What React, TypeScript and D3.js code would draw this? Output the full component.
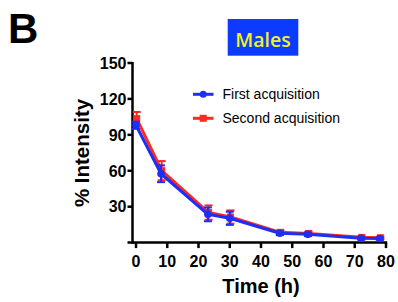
import React from 'react';
import * as d3 from 'd3';

const times = [0, 8, 23, 30, 46, 55, 72, 78];
const firstValues = [98, 57.5, 23.6, 20.3, 7.8, 6.9, 3.6, 3.4];
const firstErrors = [3, 7, 5.8, 5.5, 1.5, 1.5, 1, 1];
const secondValues = [103, 59.5, 24.5, 20.8, 8.0, 7.1, 3.8, 3.5];
const secondErrors = [5.5, 8, 6, 5.5, 1.5, 1.5, 1, 1];
const xTicks = [0, 10, 20, 30, 40, 50, 60, 70, 80];
const yTicks = [30, 60, 90, 120, 150];

const BLUE = '#1f2ef5';
const RED = '#ff2a1f';
const FONT = '"Liberation Sans", Arial, sans-serif';

const App: React.FC = () => {
  const width = 398;
  const height = 302;

  const x = d3.scaleLinear().domain([0, 80]).range([136, 386]);
  const y = d3.scaleLinear().domain([0, 150]).range([242.6, 63]);
  const axisX = 132.5;

  const line = d3.line<number>()
    .x((_, i) => x(times[i]))
    .y(d => y(d));

  const series = [
    { name: 'Second acquisition', values: secondValues, errors: secondErrors, color: RED, square: true },
    { name: 'First acquisition', values: firstValues, errors: firstErrors, color: BLUE, square: false },
  ];

  return (
    <div style={{ position: 'absolute', left: 0, top: 0 }}>
      <svg width={width} height={height} viewBox={`0 0 ${width} ${height}`} style={{ display: 'block', background: '#fff' }}>
        {/* panel letter */}
        <text x={8} y={43} fontFamily={FONT} fontWeight="bold" fontSize={42}>B</text>

        {/* title box */}
        <rect x={227.7} y={19} width={70.6} height={36.7} fill="#0a3bff" />
        <text x={263} y={46.5} textAnchor="middle" fontFamily='"Open Sans", sans-serif' fontWeight={600} fontSize={19.5} fill="#f2f21e">Males</text>

        {/* axes */}
        <line x1={axisX} x2={axisX} y1={62} y2={y(0) + 1.2} stroke="#000" strokeWidth={2.5} />
        <line x1={127.5} x2={x(80) + 1.2} y1={y(0)} y2={y(0)} stroke="#000" strokeWidth={2.5} />
        {yTicks.map(t => (
          <g key={`y${t}`}>
            <line x1={axisX - 5} x2={axisX} y1={y(t)} y2={y(t)} stroke="#000" strokeWidth={2.5} />
            <text x={axisX - 6} y={y(t) + 5.8} textAnchor="end" fontFamily={FONT} fontWeight="bold" fontSize={16}>{t}</text>
          </g>
        ))}
        {xTicks.map(t => (
          <g key={`x${t}`}>
            <line x1={x(t)} x2={x(t)} y1={y(0)} y2={y(0) + 5.5} stroke="#000" strokeWidth={2.5} />
            <text x={x(t)} y={267.3} textAnchor="middle" fontFamily={FONT} fontWeight="bold" fontSize={16}>{t}</text>
          </g>
        ))}
        <text x={261} y={293} textAnchor="middle" fontFamily={FONT} fontWeight="bold" fontSize={20}>Time (h)</text>
        <text transform={`translate(88.5,153) rotate(-90)`} textAnchor="middle" fontFamily={FONT} fontWeight="bold" fontSize={20.5}>% Intensity</text>

        {/* series: red drawn first, blue on top */}
        {series.map((s, k) => (
          <g key={s.name} transform={k === 0 ? 'translate(0.7,-0.7)' : undefined}>
            <path d={line(s.values) ?? ''} fill="none" stroke={s.color} strokeWidth={3} strokeLinejoin="round" />
            {s.values.map((v, i) => {
              const cx = x(times[i]);
              const top = y(v + s.errors[i]);
              const bot = y(v - s.errors[i]);
              return (
                <g key={i}>
                  <line x1={cx} x2={cx} y1={top} y2={bot} stroke={s.color} strokeWidth={2} />
                  <line x1={cx - 4} x2={cx + 4} y1={top} y2={top} stroke={s.color} strokeWidth={2} />
                  <line x1={cx - 4} x2={cx + 4} y1={bot} y2={bot} stroke={s.color} strokeWidth={2} />
                  {s.square
                    ? <rect x={cx - 3.5} y={y(v) - 3.5} width={7} height={7} fill={s.color} />
                    : <circle cx={cx} cy={y(v)} r={3.8} fill={s.color} />}
                </g>
              );
            })}
          </g>
        ))}

        {/* legend */}
        {[
          { label: 'First acquisition', color: BLUE, square: false, cy: 94.3 },
          { label: 'Second acquisition', color: RED, square: true, cy: 118.3 },
        ].map(l => (
          <g key={l.label}>
            <line x1={193} x2={213.5} y1={l.cy} y2={l.cy} stroke={l.color} strokeWidth={3} />
            {l.square
              ? <rect x={199.7} y={l.cy - 3.5} width={7} height={7} fill={l.color} />
              : <circle cx={203.2} cy={l.cy} r={3.5} fill={l.color} />}
            <text x={222.5} y={l.cy + 5} fontFamily={FONT} fontSize={14}>{l.label}</text>
          </g>
        ))}
      </svg>
    </div>
  );
};

export default App;
